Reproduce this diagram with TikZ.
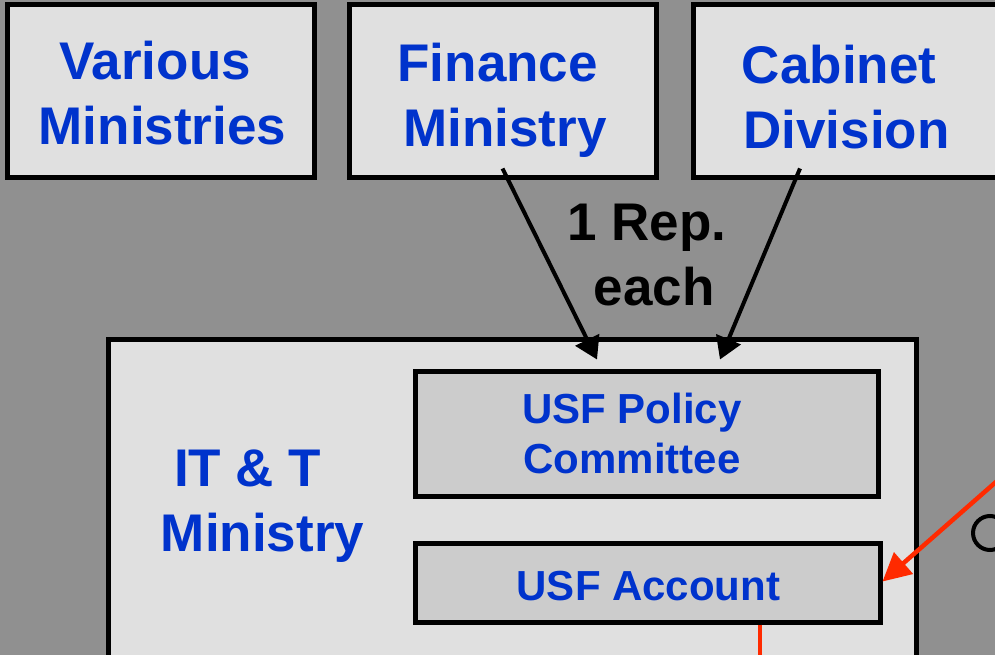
\documentclass[tikz,border=0pt]{standalone}
\usepackage{fontspec}
\setmainfont{Liberation Sans}
\usetikzlibrary{arrows.meta,calc}

\definecolor{slidegray}{HTML}{909090}
\definecolor{boxgray}{HTML}{E0E0E0}
\definecolor{innergray}{HTML}{CCCCCC}
\definecolor{textblue}{HTML}{0033CC}
\definecolor{linkred}{HTML}{FF2A00}

\begin{document}
\begin{tikzpicture}[x=1pt, y=-1pt,
    box/.style={draw=black, line width=5pt, fill=boxgray, inner sep=0pt},
    innerbox/.style={box, fill=innergray},
    boxtext/.style={inner sep=0pt, align=center, text=textblue, font=\bfseries\fontsize{53}{65}\selectfont},
    smalltext/.style={boxtext, font=\bfseries\fontsize{42}{50}\selectfont},
    rep/.style={-{Triangle[length=22pt, width=26pt]}, line width=4pt},
    fund/.style={-{Triangle[length=28pt, width=28pt]}, line width=4.5pt, draw=linkred}]
    \useasboundingbox (0,0) rectangle (995,655);
    \clip (0,0) rectangle (995,655);
    \fill[slidegray] (0,0) rectangle (995,655);

    % the three bodies on top
    \node[box, minimum width=307pt, minimum height=173pt] (various) at (160.5, 91.5) {};
    \node[box, minimum width=307pt, minimum height=173pt] (finance) at (502.5, 91.5) {};
    \node[box, minimum width=307pt, minimum height=173pt] (cabinet) at (846.5, 91.5) {};
    \node[boxtext] (variousname) at (162.5, 99) {\strut Various\ \mbox{}\\\strut Ministries};
    \node[boxtext] (financename) at (505, 101) {\strut Finance\ \mbox{}\\\strut Ministry};
    \node[boxtext] (cabinetname) at (846.5, 103) {\strut Cabinet\ \mbox{}\\\strut Division};

    % the ministry and what it holds
    \node[box, minimum width=808pt, minimum height=380pt] (itt) at (512, 529) {};
    \node[boxtext] (ittname) at (262.5, 505.5) {\strut IT \& T\ \ \mbox{}\\\strut Ministry};
    \node[innerbox, minimum width=463pt, minimum height=125pt] (policy) at (646.5, 433.5) {};
    \node[smalltext] (policyname) at (632, 438) {\strut USF Policy\\\strut Committee};
    \node[innerbox, minimum width=465pt, minimum height=79pt] (account) at (647.5, 582.5) {};
    \node[smalltext] (accountname) at (648.5, 590) {\strut USF Account};

    \node[boxtext, text=black] (each) at (654, 259.5) {\strut 1 Rep.\ \mbox{}\\\strut each};

    \coordinate (fromfin) at ($(finance.south) + (0, -12)$);
    \coordinate (fromcab) at ($(cabinet.south) + (-46.5, -12)$);
    \draw[rep] (fromfin) -- ($(policy.north) + (-49.5, -9)$);
    \draw[rep] (fromcab) -- ($(policy.north) + (73.5, -9)$);

    % red links at the edges
    \coordinate (redin) at (1013, 467);
    \draw[fund] (redin) -- ($(account.east) + (0, -1)$);
    \coordinate (redout) at (760, 700);
    \draw[linkred, line width=3.5pt] (account.south -| redout) -- (redout);
    \draw[line width=4pt] (990, 533) circle (17pt);

\end{tikzpicture}
\end{document}
